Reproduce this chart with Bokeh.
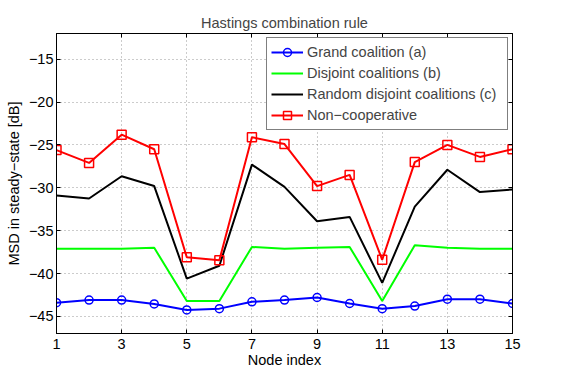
from bokeh.plotting import figure
from bokeh.models import FixedTicker, LinearAxis, Legend, LegendItem, Range1d
from bokeh.embed import file_html
from bokeh.resources import INLINE

nodes = list(range(1, 16))
grand = [-43.4, -43.1, -43.1, -43.55, -44.25, -44.1, -43.3, -43.1, -42.8, -43.5, -44.1, -43.8, -43.0, -43.0, -43.5]
disjoint = [-37.1, -37.1, -37.1, -37.0, -43.2, -43.2, -36.9, -37.1, -37.0, -36.9, -43.2, -36.7, -37.0, -37.1, -37.1]
random_disjoint = [-30.9, -31.25, -28.65, -29.8, -40.6, -39.1, -27.3, -29.9, -33.9, -33.4, -41.1, -32.2, -27.9, -30.5, -30.2]
noncoop = [-25.6, -27.1, -23.8, -25.5, -38.1, -38.45, -24.1, -24.9, -29.8, -28.5, -38.4, -27.0, -25.0, -26.4, -25.5]

labels = ["Grand coalition (a)", "Disjoint coalitions (b)", "Random disjoint coalitions (c)", "Non\u2212cooperative"]
x_ticks = [1, 3, 5, 7, 9, 11, 13, 15]
y_ticks = [-45, -40, -35, -30, -25, -20, -15]

FONT = "Liberation Sans"
FS = "14.5px"

p = figure(width=566, height=370, output_backend="svg", toolbar_location=None,
           x_range=Range1d(1, 15), y_range=Range1d(-47, -12),
           min_border_left=56, min_border_right=54, min_border_top=33, min_border_bottom=37,
           x_axis_label="Node index", y_axis_label="MSD in steady\u2212state [dB]")
p.title.text = "Hastings combination rule"
p.title.align = "center"
p.title.text_font = FONT
p.title.text_font_size = FS
p.title.text_font_style = "normal"
p.title.standoff = 6

p.outline_line_color = "black"
p.outline_line_width = 1
p.background_fill_color = "white"
p.border_fill_color = "white"

for ax in p.axis:
    ax.axis_line_color = "black"
    ax.major_tick_in = 4
    ax.major_tick_out = 0
    ax.minor_tick_in = 0
    ax.minor_tick_out = 0
    ax.major_label_text_font = FONT
    ax.major_label_text_font_size = FS
    ax.major_label_text_color = "black"
    ax.axis_label_text_font = FONT
    ax.axis_label_text_font_size = FS
    ax.axis_label_text_font_style = "normal"
    ax.axis_label_text_color = "black"

p.xaxis.ticker = FixedTicker(ticks=x_ticks)
p.yaxis.ticker = FixedTicker(ticks=y_ticks)
p.yaxis.major_label_overrides = {t: "\u2212" + str(abs(t)) for t in y_ticks}
p.xaxis.major_label_standoff = 5
p.xaxis.axis_label_standoff = 0
p.yaxis.major_label_standoff = 3
p.yaxis.axis_label_standoff = 4

for extra_loc in ("right", "above"):
    tks = x_ticks if extra_loc == "above" else y_ticks
    ax = LinearAxis(ticker=FixedTicker(ticks=tks))
    ax.major_tick_in = 4
    ax.major_tick_out = 0
    ax.minor_tick_in = 0
    ax.minor_tick_out = 0
    ax.major_label_overrides = {t: "" for t in tks}
    ax.major_label_standoff = 0
    ax.axis_line_color = "black"
    p.add_layout(ax, extra_loc)

for g in (p.xgrid, p.ygrid):
    g.grid_line_color = "#555555"
    g.grid_line_dash = "1 3"
    g.grid_line_alpha = 0.6
p.xgrid.ticker = FixedTicker(ticks=x_ticks)
p.ygrid.ticker = FixedTicker(ticks=y_ticks)

r1 = p.line(nodes, grand, line_color="blue", line_width=2)
r1m = p.scatter(nodes, grand, marker="circle", size=8, line_color="blue", fill_color=None, line_width=1.5)
r2 = p.line(nodes, disjoint, line_color="#00ff00", line_width=2)
r3 = p.line(nodes, random_disjoint, line_color="black", line_width=2)
r4 = p.line(nodes, noncoop, line_color="red", line_width=2)
r4m = p.scatter(nodes, noncoop, marker="square", size=9, line_color="red", fill_color=None, line_width=1.5)

legend = Legend(items=[
    LegendItem(label=labels[0], renderers=[r1, r1m]),
    LegendItem(label=labels[1], renderers=[r2]),
    LegendItem(label=labels[2], renderers=[r3]),
    LegendItem(label=labels[3], renderers=[r4, r4m]),
], location="top_right")
legend.margin = 4
legend.padding = 4
legend.spacing = 1
legend.glyph_width = 32
legend.glyph_height = 20
legend.label_height = 20
legend.label_width = 196
legend.label_standoff = 4
legend.label_text_font = FONT
legend.label_text_font_size = FS
legend.border_line_color = "black"
legend.border_line_width = 1
legend.border_radius = 0
legend.background_fill_alpha = 1
p.add_layout(legend)

open("out.html", "w").write(file_html(p, INLINE))
